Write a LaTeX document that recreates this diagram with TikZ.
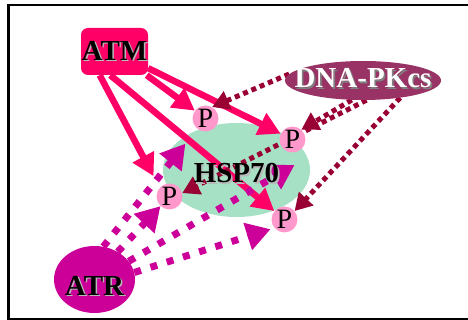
\documentclass[tikz,border=0pt]{standalone}
\usepackage{fontspec}
\setmainfont{Liberation Serif}
\usetikzlibrary{arrows.meta,shapes.geometric}
\definecolor{atmc}{HTML}{FF0066}
\definecolor{dnac}{HTML}{993366}
\definecolor{dnal}{HTML}{990033}
\definecolor{atrc}{HTML}{CC0099}
\definecolor{hspc}{HTML}{A6E1C6}
\definecolor{pc}{HTML}{FF99CC}
\pgfdeclarelayer{back}
\pgfdeclarelayer{mid}
\pgfsetlayers{back,mid,main}
\newcommand{\shd}[2]{\makebox[0pt]{\makebox[0pt][l]{\kern1.6pt\raisebox{-1.6pt}{\color{#1}#2}}#2}}
\tikzset{
  prot/.style={inner sep=0pt,font=\fontsize{29}{31}\selectfont\bfseries},
  kin/.style={prot,ellipse,fill=#1},
  psite/.style={circle,fill=pc,minimum size=26pt,inner sep=0pt,font=\fontsize{28}{30}\selectfont},
  atmarr/.style={atmc,line width=6.5pt,-{Triangle[length=22pt,width=23pt]}},
  dnaarr/.style={dnal,line width=5pt,dash pattern=on 5pt off 4pt,-{Triangle[length=17pt,width=19pt]}},
  atrarr/.style={atrc,line width=7pt,dash pattern=on 7pt off 10pt,-{Triangle[length=24pt,width=27pt]}}
}
\begin{document}
\begin{tikzpicture}[x=1pt,y=-1pt]
\useasboundingbox (0,0) rectangle (468,320);
\draw[line width=2.5pt] (8.7,5) rectangle (490,319);
\node[prot,ellipse,minimum width=147pt,minimum height=94pt,text height=25pt,text depth=0pt] (hsp) at (236.5,170) {\shd{gray!55}{HSP70}};
\node[psite] (p1) at (205.5,118.5) {P};
\node[psite] (p2) at (292.5,139.5) {P};
\node[psite] (p3) at (169.5,196.5) {P};
\node[psite] (p4) at (284.5,219.5) {P};
\node[prot,rectangle,rounded corners=7pt,fill=atmc,minimum width=67pt,minimum height=47pt] (atm) at (114.5,51.5) {\shd{gray!55}{ATM}};
\node[kin=dnac,minimum width=156pt,minimum height=39pt,text height=14pt,text depth=0pt,text=white] (dna) at (363,80.5) {\shd{gray}{DNA-PKcs}};
\node[kin=atrc,minimum width=81pt,minimum height=67pt,text height=31pt,text depth=0pt] (atr) at (94.5,279.5) {\shd{gray!55}{ATR}};
\begin{pgfonlayer}{back}
\fill[hspc] (hsp) ellipse [x radius=73.5pt,y radius=47pt];
\end{pgfonlayer}
\begin{pgfonlayer}{mid}
\draw[atmarr] (atm) -- (p1);
\draw[atmarr] (atm) -- (p2);
\draw[atmarr,shorten >=13pt] (atm.238) -- (p3.138);
\draw[atmarr] (atm.260) -- (p4);
\draw[dnaarr] (dna.175) -- (p1.60);
\draw[dnaarr] (dna.240) -- (p2.48);
\draw[dnaarr] (dna.280) -- (p3.15);
\draw[dnaarr] (dna.335) -- (p4.40);
\draw[atrarr,shorten >=19pt] (atr.75) -- (p1);
\draw[atrarr] (atr.50) -- (p3);
\draw[atrarr,shorten >=15pt] (atr.28) -- (hsp.10);
\draw[atrarr,shorten >=4pt] (atr.10) -- (p4.220);
\end{pgfonlayer}
\end{tikzpicture}
\end{document}
